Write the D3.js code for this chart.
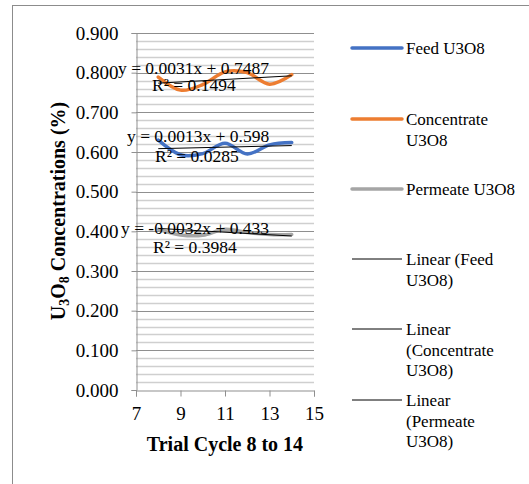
<!DOCTYPE html>
<html>
<head>
<meta charset="utf-8">
<script src="https://cdn.jsdelivr.net/npm/d3@7/dist/d3.min.js"></script>
<style>
  html, body { margin: 0; padding: 0; background: #fff; }
  svg { display: block; }
  svg text { font-family: "Liberation Serif", "Times New Roman", serif; }
</style>
</head>
<body>
<div id="chart"></div>
<script>
// trial cycles on the x axis
var cycles = [8, 9, 10, 11, 12, 13, 14];

// U3O8 concentrations (%)
var feed        = [0.630, 0.593, 0.596, 0.622, 0.595, 0.618, 0.624];
var concentrate = [0.789, 0.756, 0.770, 0.802, 0.800, 0.771, 0.795];
var permeate    = [0.405, 0.391, 0.390, 0.405, 0.397, 0.392, 0.392];

// trendline coefficients as printed on the chart
var trendSlopes     = [0.0013, 0.0031, -0.0032];
var trendIntercepts = [0.598, 0.7487, 0.433];
var trendEquations  = ['y = 0.0013x + 0.598', 'y = 0.0031x + 0.7487', 'y = -0.0032x + 0.433'];
var trendR2         = ['R² = 0.0285', 'R² = 0.1494', 'R² = 0.3984'];

var seriesNames = ['Feed U3O8', 'Concentrate U3O8', 'Permeate U3O8'];
var xTicks = [7, 9, 11, 13, 15];
var yTicks = [0, 0.1, 0.2, 0.3, 0.4, 0.5, 0.6, 0.7, 0.8, 0.9];

var W = 529, H = 484;
var FONT = '"Liberation Serif", "Times New Roman", serif';
var colors = ['#4472c4', '#ed7d31', '#a5a5a5'];
var allSeries = [feed, concentrate, permeate];

var svg = d3.select('#chart').append('svg')
  .attr('width', W).attr('height', H);

// chart area frame (runs off the right and bottom edges)
svg.append('rect')
  .attr('x', 12.5).attr('y', 5.5)
  .attr('width', W).attr('height', H)
  .attr('fill', '#fff').attr('stroke', '#8c8c8c').attr('stroke-width', 1);

var x = d3.scaleLinear().domain([7, 15]).range([136, 314]);
var y = d3.scaleLinear().domain([0, 0.9]).range([390, 33]);

var g = svg.append('g');

// minor gridlines every 0.02
var minor = d3.range(0, 0.9001, 0.02).filter(function (v) {
  return Math.abs(v * 10 - Math.round(v * 10)) > 1e-6;
});
g.selectAll('line.minor').data(minor).enter().append('line')
  .attr('x1', x(7)).attr('x2', x(15))
  .attr('y1', function (d) { return Math.round(y(d)) + 0.5; })
  .attr('y2', function (d) { return Math.round(y(d)) + 0.5; })
  .attr('stroke', '#cfcfcf').attr('stroke-width', 1.3);

// major gridlines
g.selectAll('line.major').data(yTicks.slice(1)).enter().append('line')
  .attr('x1', x(7)).attr('x2', x(15))
  .attr('y1', function (d) { return Math.round(y(d)) + 0.5; })
  .attr('y2', function (d) { return Math.round(y(d)) + 0.5; })
  .attr('stroke', '#8f8f8f').attr('stroke-width', 1);

// axes
var yAxis = d3.axisLeft(y).tickValues(yTicks).tickSize(5).tickPadding(13)
  .tickFormat(d3.format('.3f'));
var gy = svg.append('g').attr('transform', 'translate(' + (x(7) + 0.5) + ',0)').call(yAxis);
var xAxis = d3.axisBottom(x).tickValues(xTicks).tickSize(6).tickPadding(10)
  .tickFormat(d3.format('d'));
var gx = svg.append('g').attr('transform', 'translate(0,' + (y(0) + 0.5) + ')').call(xAxis);

[gx, gy].forEach(function (ax) {
  ax.attr('font-family', FONT);
  ax.select('.domain').attr('stroke', '#8f8f8f');
  ax.selectAll('.tick line').attr('stroke', '#8f8f8f');
  ax.selectAll('.tick text')
    .attr('fill', '#000')
    .style('font-family', FONT)
    .style('font-size', '19px');
});

// data lines (Excel style smoothed)
var line = d3.line()
  .x(function (d, i) { return x(cycles[i]); })
  .y(function (d) { return y(d); })
  .curve(d3.curveCardinal.tension(0));

allSeries.forEach(function (s, k) {
  svg.append('path').datum(s)
    .attr('d', line)
    .attr('fill', 'none')
    .attr('stroke', colors[k])
    .attr('stroke-width', 3.5)
    .attr('stroke-linecap', 'round');
});

// linear trendlines
trendSlopes.forEach(function (m, k) {
  var b = trendIntercepts[k];
  var x0 = cycles[0], x1 = cycles[cycles.length - 1];
  svg.append('line')
    .attr('x1', x(x0)).attr('y1', y(m * x0 + b))
    .attr('x2', x(x1)).attr('y2', y(m * x1 + b))
    .attr('stroke', '#000').attr('stroke-width', 1);
});

// trendline labels
var eqPos = [[127, 142, 155, 162], [118, 74, 152, 91], [121, 234, 153, 253]];
trendEquations.forEach(function (t, k) {
  var p = eqPos[k];
  svg.append('text').attr('x', p[0]).attr('y', p[1])
    .style('font-family', FONT).style('font-size', '17.5px').attr('fill', '#000').text(t);
  svg.append('text').attr('x', p[2]).attr('y', p[3])
    .style('font-family', FONT).style('font-size', '17.5px').attr('fill', '#000').text(trendR2[k]);
});

// axis titles
svg.append('text')
  .attr('x', 225).attr('y', 451)
  .attr('text-anchor', 'middle')
  .style('font-family', FONT)
  .style('font-size', '20px').style('font-weight', 'bold')
  .text('Trial Cycle 8 to 14');

var yt = svg.append('text')
  .attr('transform', 'translate(65,211) rotate(-90)')
  .attr('text-anchor', 'middle')
  .style('font-family', FONT)
  .style('font-size', '20px').style('font-weight', 'bold');
yt.append('tspan').text('U');
yt.append('tspan').attr('baseline-shift', '-25%').style('font-size', '14px').text('3');
yt.append('tspan').text('O');
yt.append('tspan').attr('baseline-shift', '-25%').style('font-size', '14px').text('8');
yt.append('tspan').text(' Concentrations (%)');

// legend
var legend = [
  { lines: ['Feed U3O8'], color: colors[0], w: 3.5, y: 48 },
  { lines: ['Concentrate', 'U3O8'], color: colors[1], w: 3.5, y: 119 },
  { lines: ['Permeate U3O8'], color: colors[2], w: 3.5, y: 189 },
  { lines: ['Linear (Feed', 'U3O8)'], color: '#000', w: 1, y: 259 },
  { lines: ['Linear', '(Concentrate', 'U3O8)'], color: '#000', w: 1, y: 329 },
  { lines: ['Linear', '(Permeate', 'U3O8)'], color: '#000', w: 1, y: 400 }
];
legend.forEach(function (d) {
  svg.append('line')
    .attr('x1', 352).attr('x2', 402)
    .attr('y1', d.y).attr('y2', d.y)
    .attr('stroke', d.color).attr('stroke-width', d.w)
    .attr('stroke-linecap', d.w > 1 ? 'round' : 'butt');
  var t = svg.append('text').attr('x', 406).attr('y', d.y + 6)
    .style('font-family', FONT).style('font-size', '17px').attr('fill', '#000');
  d.lines.forEach(function (s, i) {
    t.append('tspan').attr('x', 406).attr('dy', i === 0 ? 0 : 20.5).text(s);
  });
});
</script>
</body>
</html>
